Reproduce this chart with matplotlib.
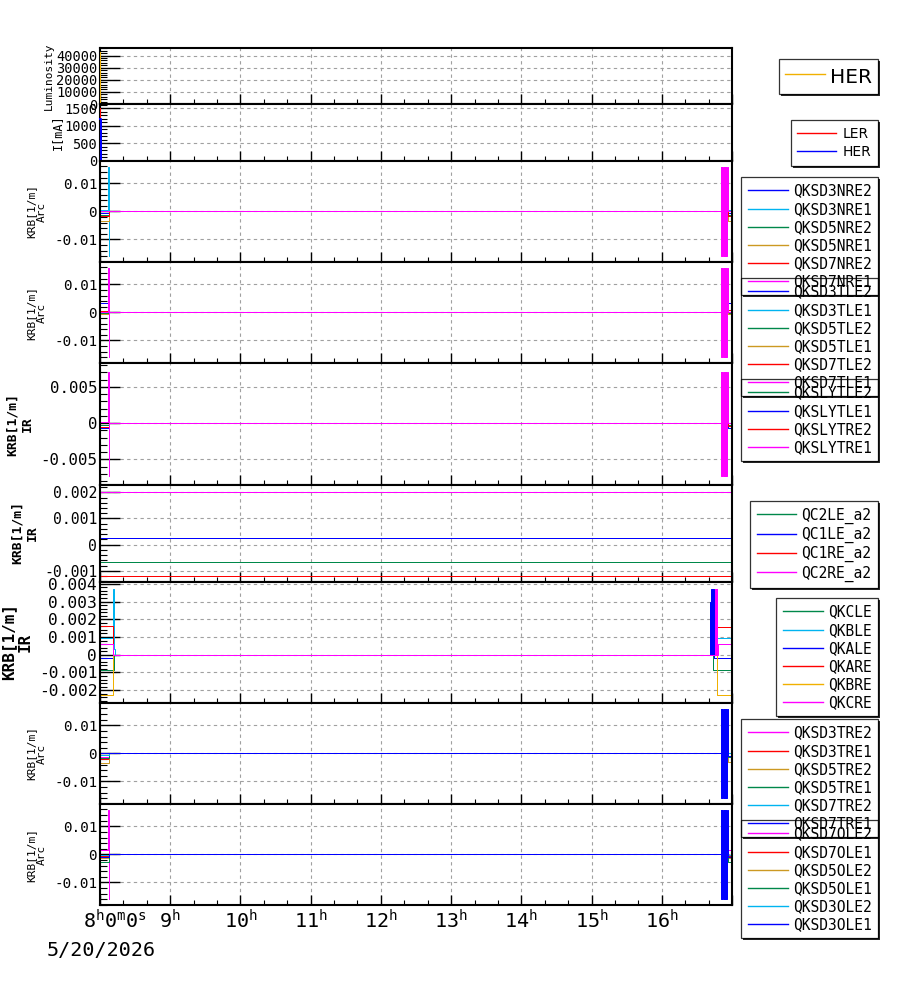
import matplotlib.pyplot as plt
from matplotlib.ticker import MultipleLocator, AutoMinorLocator, FixedLocator, FuncFormatter
from matplotlib.lines import Line2D

plt.rcParams['font.family'] = ['DejaVu Sans Mono']
plt.rcParams['mathtext.default'] = 'regular'
plt.rcParams['axes.unicode_minus'] = False
plt.rcParams['path.simplify'] = False

W, H = 900, 984
T0, T1 = 8.0, 17.0
LW = 0.72

BLUE, CYAN, GREEN = '#0000ff', '#00b4f0', '#00884a'
GOLD, RED, MAGENTA, ORANGE = '#cc9922', '#ff0000', '#ff00ff', '#f0b000'

# beam: luminosity and currents (time in hours of the day)
lum_t = [8.0, 8.006, 17.0]
lum_her = [43300, 0, 0]
ler_t = [8.0, 8.006, 17.0]
ler_cur = [1500, 0, 0]
her_t = [8.0, 8.010, 17.0]
her_cur = [1190, 0, 0]

# shared switch times
arc_band_t = [16.843, 16.850, 16.857, 16.864, 16.871, 16.879, 16.886,
              16.893, 16.900, 16.907, 16.914, 16.921, 16.929]
arc_spike_t = [8.112, 8.126]

# arc NR knobs
nr_names = ['QKSD3NRE2', 'QKSD3NRE1', 'QKSD5NRE2', 'QKSD5NRE1', 'QKSD7NRE2', 'QKSD7NRE1']
nr_colors = [BLUE, CYAN, GREEN, GOLD, RED, MAGENTA]
nr_start = [-0.0005, 0.0005, -0.0012, -0.0035, -0.0017, 0.0]
nr_end = [-0.0005, 0.0004, -0.0012, -0.0035, -0.0018, 0.0]
nr_on = [8.128, 8.128, 8.128, 8.128, 8.128, 8.128]
nr_off = [16.94, 16.94, 16.94, 16.94, 16.94, 16.94]
nr_spike_v = [0.0159, -0.0160]
nr_band_v = [0.0159, -0.0159, 0.0159, -0.0159, 0.0159, -0.0159, 0.0159,
             -0.0159, 0.0159, -0.0159, 0.0159, -0.0159, 0.0159]

# arc TL knobs
tl_names = ['QKSD3TLE2', 'QKSD3TLE1', 'QKSD5TLE2', 'QKSD5TLE1', 'QKSD7TLE2', 'QKSD7TLE1']
tl_colors = [BLUE, CYAN, GREEN, GOLD, RED, MAGENTA]
tl_start = [0.0032, -0.0001, -0.0003, -0.0007, 0.0006, 0.0]
tl_end = [0.0032, 0.0002, -0.0003, -0.0006, 0.0009, 0.0]
tl_on = [8.128, 8.128, 8.128, 8.128, 8.128, 8.128]
tl_off = [16.94, 16.94, 16.94, 16.94, 16.94, 16.94]
tl_spike_v = [0.0158, -0.0159]
tl_band_v = [0.0158, -0.0159, 0.0158, -0.0159, 0.0158, -0.0159, 0.0158,
             -0.0159, 0.0158, -0.0159, 0.0158, -0.0159, 0.0158]

# IR LY knobs
ly_names = ['QKSLYTLE2', 'QKSLYTLE1', 'QKSLYTRE2', 'QKSLYTRE1']
ly_colors = [GREEN, BLUE, RED, MAGENTA]
ly_start = [-0.0003, -0.0006, -0.0005, 0.0002]
ly_end = [-0.0002, -0.0006, -0.0004, 0.0]
ly_on = [8.128, 8.128, 8.128, 8.128]
ly_off = [16.94, 16.94, 16.94, 16.94]
ly_spike_v = [0.0071, -0.0073]
ly_band_v = [0.0071, -0.0073, 0.0071, -0.0073, 0.0071, -0.0073, 0.0071,
             -0.0073, 0.0071, -0.0073, 0.0071, -0.0073, 0.0071]

# IR QC skew knobs (constant)
qc_names = ['QC2LE_a2', 'QC1LE_a2', 'QC1RE_a2', 'QC2RE_a2']
qc_colors = [GREEN, BLUE, RED, MAGENTA]
qc_vals = [-0.00066, 0.00026, -0.00121, 0.0020]

# IR QK knobs
qk_names = ['QKCLE', 'QKBLE', 'QKALE', 'QKARE', 'QKBRE', 'QKCRE']
qk_colors = [GREEN, CYAN, BLUE, RED, ORANGE, MAGENTA]
qk_start = [-0.00085, 0.00096, -0.00019, 0.0016, -0.00228, 0.00062]
qk_end = [-0.00085, 0.00094, -0.00019, 0.00156, -0.00226, 0.00062]
qk_on = [8.194, 8.21, 8.19, 8.19, 8.188, 8.19]
qk_off = [16.736, 16.736, 16.738, 16.793, 16.793, 16.796]
qk_spike_t = [8.19, 8.198]
qk_spike_v = [0.0037, 0.0003]
qk_blue_t = [16.690, 16.697, 16.704, 16.711, 16.718, 16.725, 16.732]
qk_blue_v = [0.0030, 0.0, 0.0037, 0.0, 0.0037, 0.0, 0.0037]
qk_mag_t = [16.757, 16.764, 16.771, 16.778, 16.785, 16.792]
qk_mag_v = [0.0037, 0.0, 0.0037, 0.0, 0.0037, 0.0]

# arc TR knobs
tr_names = ['QKSD3TRE2', 'QKSD3TRE1', 'QKSD5TRE2', 'QKSD5TRE1', 'QKSD7TRE2', 'QKSD7TRE1']
tr_colors = [MAGENTA, RED, GOLD, GREEN, CYAN, BLUE]
tr_start = [-0.0012, -0.0021, -0.0033, -0.0015, -0.0006, 0.0]
tr_end = [-0.0010, -0.0014, -0.0030, -0.0012, 0.0, -0.0008]
tr_on = [8.128, 8.128, 8.128, 8.128, 8.128, 8.128]
tr_off = [16.94, 16.94, 16.94, 16.94, 16.94, 16.94]
tr_band_v = [0.0158, -0.0159, 0.0158, -0.0159, 0.0158, -0.0159, 0.0158,
             -0.0159, 0.0158, -0.0159, 0.0158, -0.0159, 0.0158]

# arc OL knobs
ol_names = ['QKSD7OLE2', 'QKSD7OLE1', 'QKSD5OLE2', 'QKSD5OLE1', 'QKSD3OLE2', 'QKSD3OLE1']
ol_colors = [MAGENTA, RED, GOLD, GREEN, CYAN, BLUE]
ol_start = [0.0014, -0.0006, -0.0012, -0.0029, -0.0002, -0.0009]
ol_end = [0.0014, -0.0006, -0.0012, -0.0029, -0.0002, -0.0009]
ol_on = [8.128, 8.128, 8.128, 8.128, 8.128, 8.128]
ol_off = [16.94, 16.94, 16.94, 16.94, 16.94, 16.94]
ol_spike_v = [0.0158, -0.0158]
ol_band_v = [0.0158, -0.0158, 0.0158, -0.0158, 0.0158, -0.0158, 0.0158,
             -0.0158, 0.0158, -0.0158, 0.0158, -0.0158, 0.0158]

hour_labels = [9, 10, 11, 12, 13, 14, 15, 16]


def knob_series(v0, v1, t_on, t_off, left=None, right=None, mid=0.0):
    t, v = [T0], [v0]
    if left:
        t += left[0]
        v += left[1]
    t.append(t_on)
    v.append(mid)
    if right:
        t += right[0]
        v += right[1]
    t += [t_off, T1]
    v += [v1, v1]
    return t, v


def draw_knobs(ax, names, colors, start, end, t_on, t_off, left=None, right=None):
    lines = []
    for i, (n, c) in enumerate(zip(names, colors)):
        lt = left[i] if left and i in left else None
        rt = right[i] if right and i in right else None
        t, v = knob_series(start[i], end[i], t_on[i], t_off[i], lt, rt)
        ln, = ax.plot(t, v, drawstyle='steps-post', color=c, lw=LW, label=n, snap=True)
        lines.append(ln)
    return lines


def fmt(v, pos):
    s = f'{v:.6g}'
    return '0' if s == '-0' else s


fig = plt.figure(figsize=(W / 100, H / 100), dpi=100)

panels_px = [(48, 104), (104, 161), (161, 262), (262, 363), (363, 485),
             (485, 582), (582, 703), (703, 804), (804, 905)]


def setup(top, bottom, ylim, major, fs):
    ax = fig.add_axes([100 / W, 1 - bottom / H, 632 / W, (bottom - top) / H])
    ax.set_xlim(T0, T1)
    ax.set_ylim(*ylim)
    ax.xaxis.set_major_locator(MultipleLocator(1))
    ax.xaxis.set_minor_locator(AutoMinorLocator(3))
    ax.yaxis.set_major_locator(MultipleLocator(major))
    ax.yaxis.set_minor_locator(AutoMinorLocator(5))
    ax.yaxis.set_major_formatter(FuncFormatter(fmt))
    ax.tick_params(axis='y', which='major', direction='in', length=14.4, width=1.0,
                   labelsize=fs, pad=2)
    ax.tick_params(axis='y', which='minor', direction='in', length=5, width=0.8)
    ax.tick_params(axis='x', which='major', direction='in', length=7.2, width=1.0,
                   labelbottom=False)
    ax.tick_params(axis='x', which='minor', direction='in', length=3.6, width=0.8)
    ax.grid(True, which='major', color='#a0a0a0', linestyle=(0, (3, 3)), linewidth=0.8)
    for s in ax.spines.values():
        s.set_linewidth(1.5)
    return ax


ARC_LIM = (-0.01805, 0.01795)
ax1 = setup(*panels_px[0], (0, 46300), 10000, 9.8)
ax2 = setup(*panels_px[1], (0, 1625), 500, 9.8)
ax3 = setup(*panels_px[2], ARC_LIM, 0.01, 10.3)
ax4 = setup(*panels_px[3], ARC_LIM, 0.01, 10.3)
ax5 = setup(*panels_px[4], (-0.00852, 0.0083), 0.005, 11.3)
ax6 = setup(*panels_px[5], (-0.00143, 0.00228), 0.001, 10.6)
ax7 = setup(*panels_px[6], (-0.00272, 0.0041), 0.001, 11.7)
ax8 = setup(*panels_px[7], ARC_LIM, 0.01, 10.3)
ax9 = setup(*panels_px[8], ARC_LIM, 0.01, 10.3)

lum_line, = ax1.plot(lum_t, lum_her, drawstyle='steps-post', color=ORANGE, lw=LW,
                     clip_on=False, zorder=3, label='HER', snap=True)
ler_line, = ax2.plot(ler_t, ler_cur, drawstyle='steps-post', color=RED, lw=LW,
                     clip_on=False, zorder=3, label='LER', snap=True)
her_line, = ax2.plot(her_t, her_cur, drawstyle='steps-post', color=BLUE, lw=1.44,
                     clip_on=False, zorder=3, label='HER', snap=True)

nr_lines = draw_knobs(ax3, nr_names, nr_colors, nr_start, nr_end, nr_on, nr_off,
                      left={1: (arc_spike_t, nr_spike_v)}, right={5: (arc_band_t, nr_band_v)})
tl_lines = draw_knobs(ax4, tl_names, tl_colors, tl_start, tl_end, tl_on, tl_off,
                      left={5: (arc_spike_t, tl_spike_v)}, right={5: (arc_band_t, tl_band_v)})
ly_lines = draw_knobs(ax5, ly_names, ly_colors, ly_start, ly_end, ly_on, ly_off,
                      left={3: (arc_spike_t, ly_spike_v)}, right={3: (arc_band_t, ly_band_v)})
qc_lines = []
for n, c, v in zip(qc_names, qc_colors, qc_vals):
    ln, = ax6.plot([T0, T1], [v, v], drawstyle='steps-post', color=c, lw=LW, label=n,
                   snap=True)
    qc_lines.append(ln)
qk_lines = draw_knobs(ax7, qk_names, qk_colors, qk_start, qk_end, qk_on, qk_off,
                      left={1: (qk_spike_t, qk_spike_v)},
                      right={2: (qk_blue_t, qk_blue_v), 5: (qk_mag_t, qk_mag_v)})
tr_lines = draw_knobs(ax8, tr_names, tr_colors, tr_start, tr_end, tr_on, tr_off,
                      right={5: (arc_band_t, tr_band_v)})
ol_lines = draw_knobs(ax9, ol_names, ol_colors, ol_start, ol_end, ol_on, ol_off,
                      left={0: (arc_spike_t, ol_spike_v)}, right={5: (arc_band_t, ol_band_v)})

# bottom time axis
ax9.xaxis.set_major_locator(FixedLocator(list(range(8, 18))))
ax9.xaxis.set_major_formatter(FuncFormatter(
    lambda v, p: f'{int(round(v))}$^h$' if int(round(v)) in hour_labels else ''))
ax9.tick_params(axis='x', which='major', labelbottom=True, labelsize=14.5, pad=3)
ax9.annotate('8$^h$0$^m$0$^s$', xy=(T0, 0), xycoords=('data', 'axes fraction'),
             xytext=(-12.5, -3), textcoords='offset points', ha='left', va='top',
             fontsize=14.5)
ax9.annotate('5/20/2026', xy=(T0, 0), xycoords=('data', 'axes fraction'),
             xytext=(-38.3, -26), textcoords='offset points', ha='left', va='top',
             fontsize=14.5)

# y titles
fig.text(49 / W, 1 - 76 / H, 'Luminosity', rotation=90, ha='center', va='center', fontsize=8)
fig.text(57 / W, 1 - 132 / H, 'I[mA]', rotation=90, ha='center', va='center', fontsize=8.5)
for mid in [211.5, 312.5, 753.5, 854.5]:
    fig.text(36.5 / W, 1 - mid / H, 'KRB[1/m]\nArc', rotation=90, ha='center', va='center',
             fontsize=8, linespacing=1.15, multialignment='center')
fig.text(20 / W, 1 - 424 / H, 'KRB[1/m]\nIR', rotation=90, ha='center', va='center',
         fontsize=9.4, fontweight='bold', linespacing=1.2, multialignment='center')
fig.text(24.5 / W, 1 - 533 / H, 'KRB[1/m]\nIR', rotation=90, ha='center', va='center',
         fontsize=9.4, fontweight='bold', linespacing=1.2, multialignment='center')
fig.text(17 / W, 1 - 642 / H, 'KRB[1/m]\nIR', rotation=90, ha='center', va='center',
         fontsize=11.5, fontweight='bold', linespacing=1.15, multialignment='center')

# legends
legends = []


def add_legend(handles, top, size, family, hl, htp, bp, ls, hh=0.7):
    leg = fig.legend(handles, [h.get_label() for h in handles], loc='upper right',
                     bbox_to_anchor=(878 / W, 1 - top / H), bbox_transform=fig.transFigure,
                     borderaxespad=0, fancybox=False, edgecolor='black', facecolor='none',
                     prop={'family': family, 'size': size}, handlelength=hl,
                     handletextpad=htp, borderpad=bp, labelspacing=ls, handleheight=hh)
    leg.get_frame().set_linewidth(0.9)
    for ln in leg.get_lines():
        ln.set_linewidth(1.0)
    legends.append(leg)


add_legend([lum_line], 59, 14.5, 'DejaVu Sans', 2.0, 0.25, 0.3, 0.1, hh=1.34)
add_legend([ler_line, her_line], 120, 10, 'DejaVu Sans', 2.8, 0.43, 0.5, 0.27)
for hs, top in [(nr_lines, 177), (tl_lines, 278), (ly_lines, 379), (qc_lines, 501),
                (qk_lines, 598), (tr_lines, 719), (ol_lines, 820)]:
    add_legend(hs, top, 10.5, 'DejaVu Sans Mono', 2.74, 0.34, 0.45, 0.21)

# drop shadows on the legend boxes
fig.canvas.draw()
renderer = fig.canvas.get_renderer()
inv = fig.transFigure.inverted()
for leg in legends:
    bb = leg.get_frame().get_window_extent(renderer)
    pts = inv.transform([(bb.x0 + 3, bb.y0 - 1), (bb.x1 + 1, bb.y0 - 1), (bb.x1 + 1, bb.y1 - 3)])
    fig.add_artist(Line2D(pts[:, 0], pts[:, 1], transform=fig.transFigure, color='#222222',
                          lw=1.4, solid_joinstyle='miter'))

fig.savefig('out.png', dpi=100)
